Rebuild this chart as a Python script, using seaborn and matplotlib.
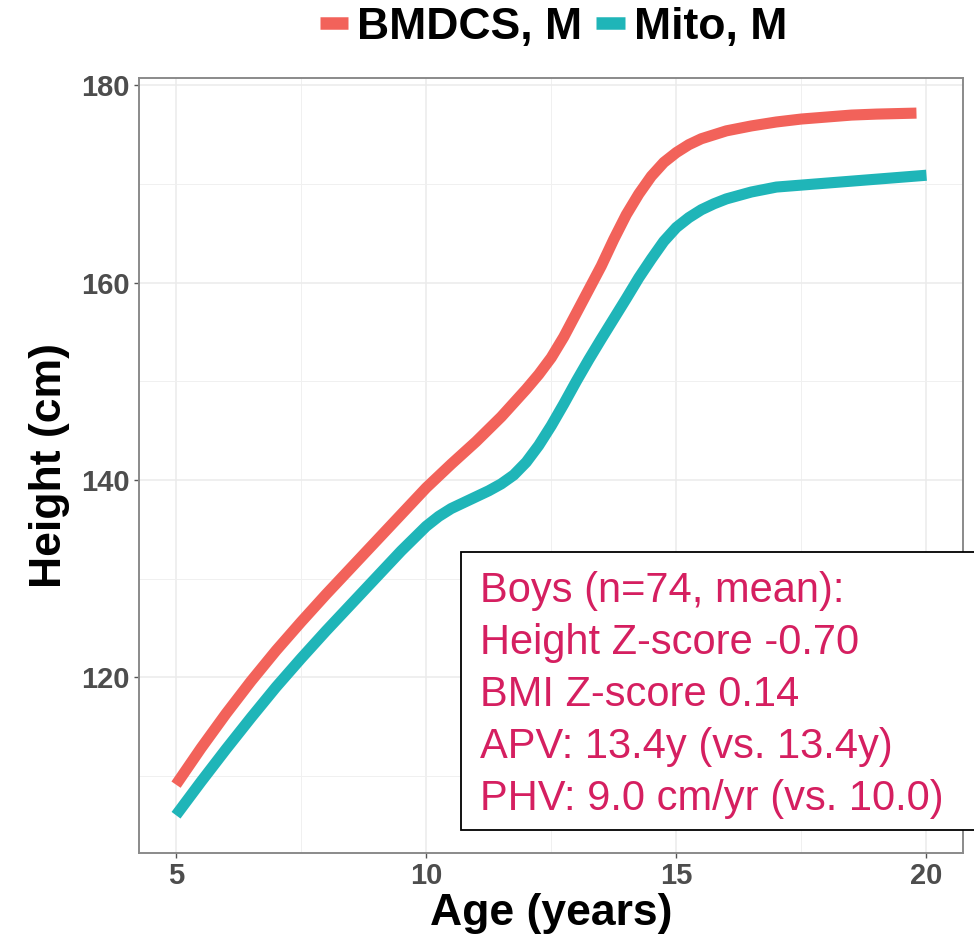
import matplotlib
matplotlib.use("Agg")
import matplotlib.pyplot as plt
from matplotlib.lines import Line2D
from matplotlib.patches import Rectangle
from matplotlib.ticker import FixedLocator
import pandas as pd
import seaborn as sns

# Mean height curves (cm) by age (years)
age_bmdcs = [5, 5.5, 6, 6.5, 7, 7.5, 8, 8.5, 9, 9.5, 10, 10.5, 11, 11.5, 12, 12.25,
             12.5, 12.75, 13, 13.25, 13.5, 13.75, 14, 14.25, 14.5, 14.75, 15, 15.25,
             15.5, 15.75, 16, 16.5, 17, 17.5, 18, 18.5, 19, 19.8]
height_bmdcs = [109.1, 112.8, 116.3, 119.6, 122.7, 125.6, 128.4, 131.1, 133.8, 136.5,
                139.2, 141.6, 143.9, 146.4, 149.2, 150.7, 152.4, 154.5, 156.9, 159.3,
                161.7, 164.4, 166.9, 169.0, 170.8, 172.2, 173.2, 174.0, 174.6, 175.0,
                175.4, 175.9, 176.3, 176.6, 176.8, 177.0, 177.1, 177.2]

age_mito = [5, 5.5, 6, 6.5, 7, 7.5, 8, 8.5, 9, 9.5, 10, 10.25, 10.5, 10.75, 11, 11.25,
            11.5, 11.75, 12, 12.25, 12.5, 12.75, 13, 13.25, 13.5, 14, 14.25, 14.5, 14.75,
            15, 15.25, 15.5, 15.75, 16, 16.5, 17, 17.5, 18, 18.5, 19, 19.5, 20]
height_mito = [106.0, 109.4, 112.7, 115.9, 119.0, 121.9, 124.7, 127.4, 130.1, 132.8,
               135.3, 136.3, 137.1, 137.7, 138.3, 138.9, 139.6, 140.5, 141.8, 143.5,
               145.5, 147.7, 150.0, 152.2, 154.3, 158.4, 160.5, 162.4, 164.2, 165.6,
               166.6, 167.4, 168.0, 168.5, 169.2, 169.7, 169.9, 170.1, 170.3, 170.5,
               170.7, 170.9]

groups = ["BMDCS, M", "Mito, M"]
colors = ["#F2625A", "#1FB5B8"]

x_ticks = [5, 10, 15, 20]
y_ticks = [120, 140, 160, 180]

summary_lines = [
    "Boys (n=74, mean):",
    "Height Z-score -0.70",
    "BMI Z-score 0.14",
    "APV: 13.4y (vs. 13.4y)",
    "PHV: 9.0 cm/yr (vs. 10.0)",
]

df = pd.concat([
    pd.DataFrame({"age": age_bmdcs, "height": height_bmdcs, "group": groups[0]}),
    pd.DataFrame({"age": age_mito, "height": height_mito, "group": groups[1]}),
], ignore_index=True)

sns.set_theme(style="white")
plt.rcParams["font.family"] = ["Liberation Sans", "DejaVu Sans"]
plt.rcParams["lines.solid_capstyle"] = "butt"
plt.rcParams["lines.solid_joinstyle"] = "round"

W, H = 974, 942
fig = plt.figure(figsize=(W / 100, H / 100), dpi=100)
left, right, top, bottom = 139, 963, 78, 852.7
ax = fig.add_axes([left / W, 1 - bottom / H, (right - left) / W, (bottom - top) / H])

sns.lineplot(data=df, x="age", y="height", hue="group", hue_order=groups,
             palette=dict(zip(groups, colors)), linewidth=8, legend=False,
             errorbar=None, ax=ax)

ax.set_xlim(4.26, 20.73)
ax.set_ylim(102.2, 180.76)
ax.xaxis.set_major_locator(FixedLocator(x_ticks))
ax.yaxis.set_major_locator(FixedLocator(y_ticks))
ax.xaxis.set_minor_locator(FixedLocator([7.5, 12.5, 17.5]))
ax.yaxis.set_minor_locator(FixedLocator([110, 130, 150, 170]))
ax.grid(True, which="major", color="#EBEBEB", linewidth=1.1, zorder=0)
ax.grid(True, which="minor", color="#F0F0F0", linewidth=0.7, zorder=0)
ax.set_axisbelow(True)

for s in ax.spines.values():
    s.set_color("#8A8A8A")
    s.set_linewidth(1.4)

ax.tick_params(which="major", direction="out", length=3.5, width=1, color="#555555",
               pad=3, labelsize=21, labelcolor="#4D4D4D", bottom=True, left=True)
ax.tick_params(which="minor", length=0)
for lab in ax.get_xticklabels() + ax.get_yticklabels():
    lab.set_fontweight("bold")

ax.set_xlabel("Age (years)", fontsize=32, fontweight="bold", color="black", labelpad=2)
ax.set_ylabel("Height (cm)", fontsize=32, fontweight="bold", color="black", labelpad=8)

handles = [Line2D([], [], color=c, linewidth=9) for c in colors]
leg = fig.legend(handles, groups, loc="center", bbox_to_anchor=(0.568, 0.971), ncol=2,
                 frameon=False, handlelength=0.65, handletextpad=0.2, columnspacing=0.3,
                 borderpad=0, prop={"size": 32, "weight": "bold"})
for t in leg.get_texts():
    t.set_color("black")

# Summary box in the lower right, running off the right edge
box_top, box_bottom, box_left = 552, 830, 461
fig.patches.append(Rectangle((box_left / W, 1 - box_bottom / H), 0.6,
                             (box_bottom - box_top) / H, transform=fig.transFigure,
                             facecolor="white", edgecolor="black", linewidth=1.3,
                             zorder=5))
first_baseline, line_step = 601.7, 52.1
for i, line in enumerate(summary_lines):
    fig.text(480 / W, 1 - (first_baseline + i * line_step) / H, line, ha="left",
             va="baseline", fontsize=30, color="#D51F60", zorder=6)

fig.savefig("out.png", dpi=100)
